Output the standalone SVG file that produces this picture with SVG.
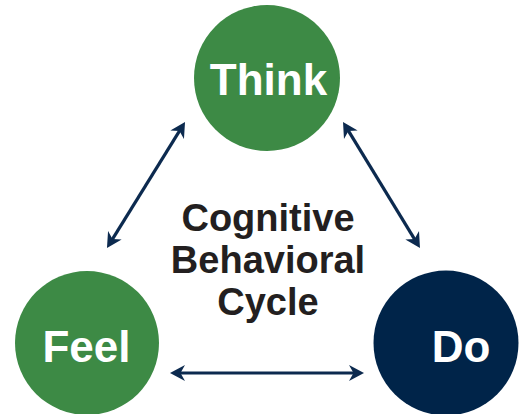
<svg xmlns="http://www.w3.org/2000/svg" width="521" height="414" viewBox="0 0 521 414">
  <style>
    .label { font-family: "Liberation Sans", Arial, sans-serif; font-weight: bold; text-anchor: middle; }
    .node-text { fill: #ffffff; font-size: 44px; }
    .center-text { fill: #231f20; font-size: 38px; }
    .green { fill: #3d8a45; }
    .navy { fill: #002449; }
    .conn { stroke: #0c2a4f; stroke-width: 3.2; fill: none; marker-start: url(#head); marker-end: url(#head); }
  </style>
  <defs>
    <marker id="head" markerUnits="userSpaceOnUse" markerWidth="18" markerHeight="18" viewBox="0 -9 17 18" refX="6" refY="0" orient="auto-start-reverse">
      <path d="M15,0 L0,-8 L4.5,0 L0,8 Z" fill="#0c2a4f"/>
    </marker>
  </defs>
  <rect width="521" height="414" fill="#ffffff"/>
  <g id="connectors">
    <line class="conn" x1="111.7" y1="240.4" x2="180.3" y2="129.6"/>
    <line class="conn" x1="347.7" y1="129.6" x2="415.3" y2="240.4"/>
    <line class="conn" x1="179" y1="373" x2="355" y2="373"/>
  </g>
  <g id="think">
    <circle class="green" cx="267" cy="78" r="73"/>
    <text class="label node-text" x="268.5" y="95">Think</text>
  </g>
  <g id="feel">
    <circle class="green" cx="87" cy="343" r="72"/>
    <text class="label node-text" x="86.5" y="362">Feel</text>
  </g>
  <g id="do">
    <circle class="navy" cx="446" cy="343" r="72.5"/>
    <text class="label node-text" x="461" y="362">Do</text>
  </g>
  <g id="center-label">
    <text class="label center-text" x="268" y="231">Cognitive</text>
    <text class="label center-text" x="268" y="273">Behavioral</text>
    <text class="label center-text" x="268" y="315">Cycle</text>
  </g>
</svg>
